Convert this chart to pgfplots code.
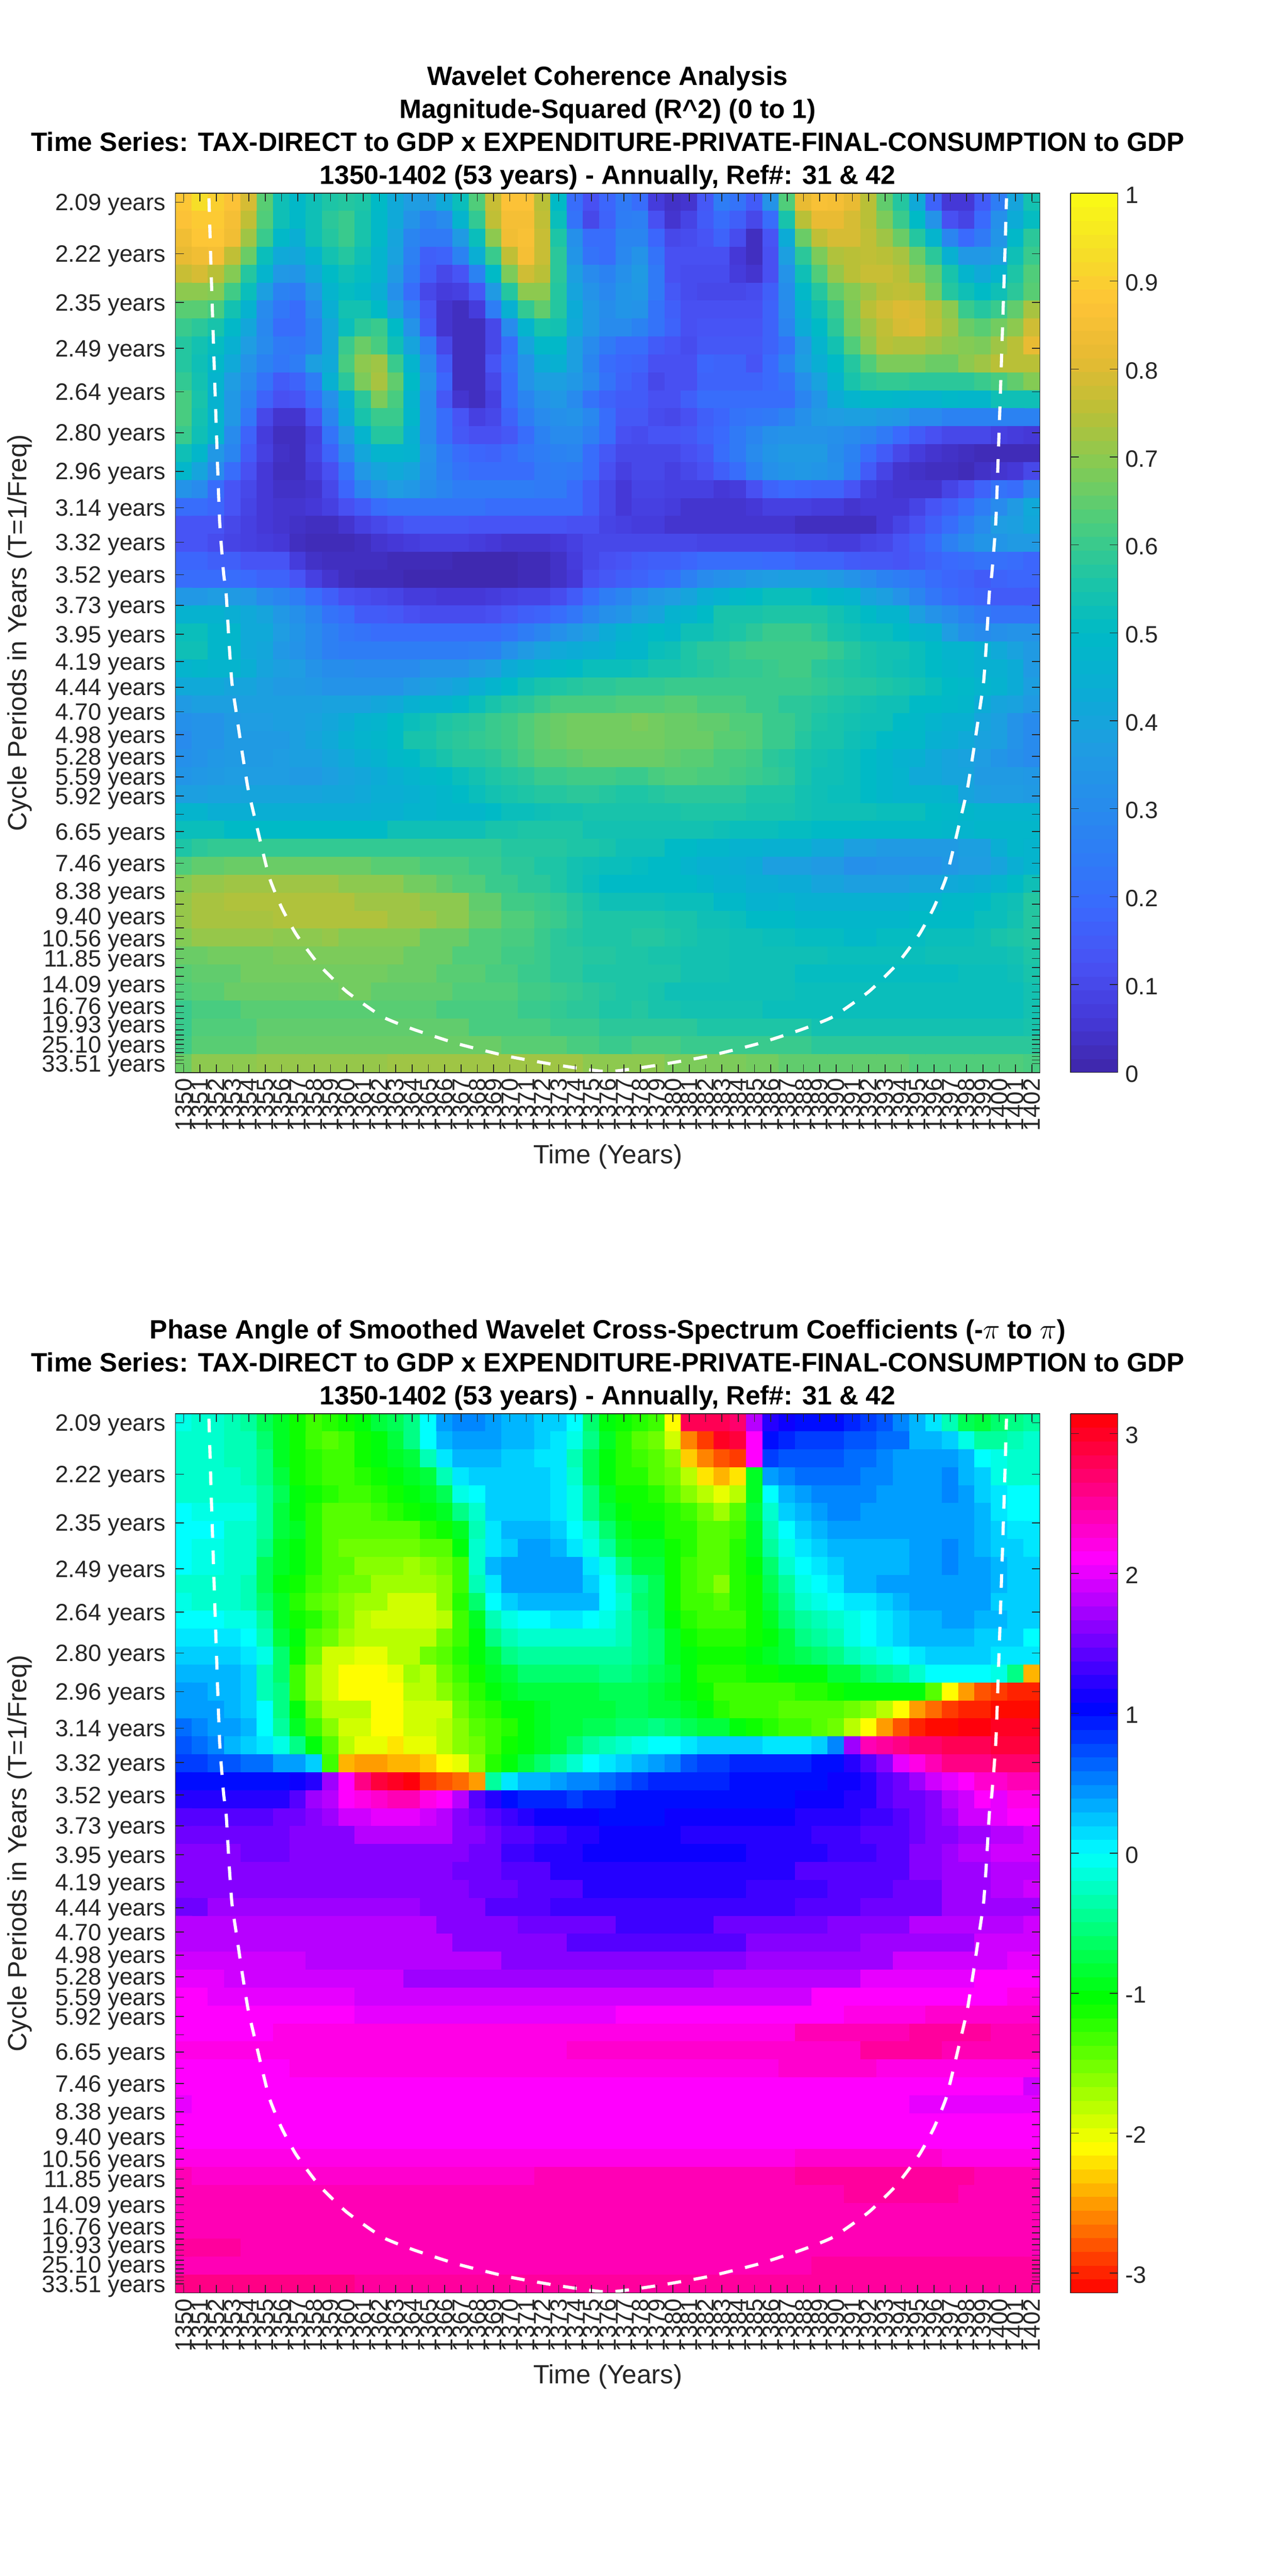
\documentclass[border=0pt]{standalone}
\usepackage{fontspec}
\setmainfont{Liberation Sans}
\usepackage{pgfplots}
\pgfplotsset{compat=1.18}
\definecolor{axc}{RGB}{38,38,38}
\newcount\cellx \newcount\celly
\def\semi{;}
\def\clist{}
\def\appendcell{\edef\clist{\clist(\the\numexpr1349+\cellx\relax,\the\celly) [\scaleprefix\lastv\scalesuffix] }}
\def\rd#1 {\def\tmp{#1}\ifx\tmp\semi\let\nxt\rowend\else\ifnum\cellx<53 \advance\cellx1 \def\lastv{#1}\appendcell\fi\let\nxt\rd\fi\nxt}
\def\rowend{\ifnum\cellx<53 \advance\cellx1 \appendcell\expandafter\rowend\fi}
\def\R{\advance\celly1 \cellx=0 \rd}
% ---------- coherence, hundredths, rows top to bottom
\def\clist{}\celly=0 \def\scaleprefix{0.}\def\scalesuffix{}
\R 88 93 90 87 79 64 53 49 53 56 57 56 50 42 37 36 42 52 63 77 87 87 75 50 20 12 18 24 20 07 04 05 14 25 22 15 33 63 82 86 85 82 75 65 57 42 17 06 06 15 25 40 54 ;
\R 87 89 89 85 76 63 53 49 53 58 60 55 49 42 33 27 30 47 59 76 85 85 76 52 22 10 17 25 26 12 05 09 15 20 16 10 20 55 75 82 82 79 75 68 60 50 33 12 09 19 32 43 51 ;
\R 84 88 88 84 72 60 49 44 53 57 60 55 49 40 28 24 24 36 52 70 84 86 77 56 32 20 20 28 28 18 10 11 13 17 11 03 13 43 66 76 79 79 76 72 66 57 47 28 19 24 34 49 58 ;
\R 82 84 85 76 66 52 42 41 47 54 57 53 47 39 26 16 17 27 44 60 76 85 77 58 34 22 20 29 33 22 12 12 12 12 06 03 12 38 58 68 74 75 76 75 73 66 58 45 35 35 38 53 60 ;
\R 77 79 75 69 57 47 35 34 42 50 53 51 47 36 24 15 10 13 27 50 68 78 75 58 38 30 27 32 36 24 12 11 11 11 07 05 12 33 53 63 71 75 77 77 75 70 65 55 47 42 47 56 63 ;
\R 70 70 69 61 52 38 27 25 35 47 51 49 44 32 20 10 07 08 14 36 57 70 70 57 40 33 29 34 35 24 14 11 10 10 10 11 16 31 49 57 65 69 72 75 76 75 67 57 53 50 53 58 64 ;
\R 64 64 62 54 46 30 23 20 30 44 54 54 50 38 27 13 05 03 07 25 45 59 65 57 43 35 31 34 33 22 16 12 12 12 12 12 17 30 45 53 60 68 75 78 80 79 75 70 60 57 60 65 73 ;
\R 60 58 55 49 41 29 20 20 27 41 52 58 60 50 33 15 05 03 03 10 30 47 55 54 42 35 30 30 27 22 17 12 13 13 13 13 17 28 43 50 58 67 72 76 79 80 76 72 66 64 67 70 78 ;
\R 57 54 51 45 37 30 24 23 27 41 60 66 62 53 40 25 10 03 03 10 20 40 49 49 38 30 24 20 20 15 13 11 14 14 14 14 17 22 36 47 54 63 70 75 74 74 72 70 69 68 72 75 82 ;
\R 57 53 49 42 33 27 23 25 38 42 62 70 72 60 47 30 15 03 03 13 22 33 43 45 38 28 20 18 17 12 12 12 18 17 17 13 19 27 38 44 50 57 63 68 68 68 66 66 70 72 75 75 75 ;
\R 59 54 47 37 30 22 15 17 25 45 58 68 73 65 50 33 18 03 03 10 20 33 38 38 35 30 22 17 15 10 12 12 17 17 17 17 19 22 32 39 47 55 58 59 59 58 58 58 58 60 62 65 69 ;
\R 62 55 46 35 27 17 12 13 20 32 45 58 68 62 47 30 14 05 03 08 20 28 33 35 30 22 17 15 15 12 12 16 20 20 20 20 20 20 28 34 43 47 49 49 48 47 47 49 48 48 53 53 53 ;
\R 62 54 47 35 23 10 05 05 13 28 43 55 60 60 48 30 20 13 08 10 17 25 30 32 33 29 20 14 14 11 10 12 16 18 22 23 24 27 32 36 37 38 38 36 35 30 30 27 27 27 27 27 27 ;
\R 60 53 47 30 17 07 03 03 08 22 35 47 57 57 45 30 20 14 12 12 14 20 27 30 30 26 20 12 11 13 13 14 17 19 24 28 32 33 33 33 32 30 28 24 19 15 12 10 10 10 08 07 06 ;
\R 53 48 35 28 15 08 04 03 09 17 29 41 47 47 46 33 25 20 18 17 20 23 25 27 28 20 14 10 10 10 10 12 14 20 24 30 34 36 36 36 31 27 20 15 10 07 05 04 03 02 02 02 02 ;
\R 48 40 30 20 12 06 03 03 07 12 22 35 40 42 40 32 26 22 20 20 20 20 24 25 24 20 12 08 10 10 08 10 12 16 20 27 32 34 35 34 32 25 15 09 05 04 03 03 02 04 05 06 10 ;
\R 33 30 20 13 10 06 04 04 05 10 18 28 33 37 35 31 28 25 25 25 25 25 24 24 20 15 10 06 09 09 08 08 08 06 07 12 17 19 18 17 17 13 08 06 05 05 05 09 12 17 22 20 28 ;
\R 20 20 18 13 09 06 05 05 06 08 12 15 20 22 22 22 22 22 22 20 20 20 20 20 20 15 10 06 08 08 07 05 05 05 05 06 08 08 08 07 07 05 06 06 06 09 13 16 20 25 30 36 42 ;
\R 13 13 13 10 08 06 05 04 03 03 05 08 10 12 14 14 14 14 13 13 13 13 13 13 12 12 09 08 07 07 05 05 05 05 05 05 05 05 03 03 03 03 03 06 09 12 16 20 25 30 37 38 41 ;
\R 13 13 11 09 08 07 06 03 02 02 02 03 05 06 07 08 08 08 07 06 05 05 05 06 08 10 10 10 10 10 10 10 09 09 09 09 09 09 08 08 07 07 09 10 13 16 20 26 30 34 34 36 36 ;
\R 18 18 16 16 13 13 13 07 04 03 03 03 03 02 02 02 02 01 01 01 01 02 02 04 07 10 12 13 15 16 16 18 20 20 20 20 19 19 17 17 17 15 14 14 13 15 17 19 20 22 21 20 18 ;
\R 20 20 20 20 19 17 17 13 08 05 03 02 02 02 01 01 01 01 01 01 01 02 02 04 06 12 14 16 17 19 21 26 30 32 34 36 37 38 38 38 36 33 30 27 25 23 20 18 17 15 17 18 18 ;
\R 35 35 37 36 35 30 28 25 20 16 12 11 10 09 07 07 06 06 06 07 08 09 09 11 15 20 25 28 32 35 37 40 44 46 49 50 52 52 52 50 48 47 40 38 33 28 23 20 18 17 15 15 15 ;
\R 46 46 46 44 42 40 35 32 28 22 20 15 15 14 12 11 11 11 11 12 14 16 17 20 23 28 32 34 38 40 46 47 50 55 55 55 56 56 56 56 54 52 50 47 47 38 33 30 27 24 22 22 22 ;
\R 52 52 48 48 42 42 37 34 30 26 23 22 20 20 20 20 20 20 20 20 22 25 28 32 35 38 43 46 48 50 48 53 53 55 56 58 60 60 60 58 55 54 52 52 50 47 46 37 32 30 32 33 33 ;
\R 53 53 48 48 42 41 35 33 30 26 25 25 25 25 25 25 25 25 26 27 32 36 39 42 43 44 45 48 48 52 53 56 58 58 60 61 61 61 61 61 59 57 55 54 54 52 50 47 47 45 42 39 36 ;
\R 47 48 47 47 44 40 38 37 33 31 31 30 30 30 30 33 33 33 36 38 43 45 47 49 50 52 52 52 53 55 55 56 57 58 59 59 60 61 61 58 57 56 55 54 53 52 50 48 47 45 45 43 36 ;
\R 42 42 42 40 40 38 36 36 35 33 33 33 33 33 36 38 39 41 44 47 50 53 55 56 57 58 58 59 59 59 60 60 60 60 60 60 60 60 60 59 58 57 57 56 55 54 52 50 49 47 46 43 38 ;
\R 36 38 38 38 38 38 38 38 38 39 39 39 41 42 45 47 47 49 52 55 57 58 60 62 62 62 62 63 63 63 64 64 62 62 62 60 60 58 58 57 56 55 54 53 53 50 50 49 48 43 40 39 36 ;
\R 32 33 33 36 37 37 38 38 39 41 43 46 47 50 52 54 56 57 58 60 61 63 65 66 67 67 67 67 68 67 66 66 65 65 63 63 60 60 58 56 55 54 53 53 50 49 47 45 45 40 38 33 30 ;
\R 30 33 33 36 36 36 36 38 40 42 45 47 48 50 55 55 57 58 59 60 61 63 65 66 67 67 67 67 67 67 66 66 66 64 64 63 60 60 57 55 55 53 52 50 49 49 45 44 42 39 38 33 30 ;
\R 32 33 35 36 36 36 37 38 38 40 42 44 46 49 50 53 55 57 57 58 60 62 64 64 65 66 66 66 66 66 65 64 64 62 62 61 58 57 55 54 53 52 50 48 46 45 42 40 39 37 34 32 30 ;
\R 34 35 36 37 37 37 37 36 36 38 40 41 43 45 47 49 50 52 54 56 57 58 60 60 61 61 61 60 60 62 63 63 62 62 61 60 59 58 55 53 53 52 50 48 47 42 42 40 40 36 36 36 35 ;
\R 38 38 39 39 40 40 40 40 40 41 41 42 44 44 45 47 48 50 52 54 55 56 57 57 58 58 57 56 56 57 58 58 58 58 58 56 56 56 54 53 52 52 50 48 47 47 47 46 40 38 37 37 36 ;
\R 47 47 44 44 44 44 44 44 44 44 44 44 45 45 47 47 48 48 48 50 52 52 53 54 54 55 55 55 55 55 55 56 56 56 56 55 55 55 54 53 53 53 53 52 52 52 50 49 48 47 47 47 47 ;
\R 52 52 52 50 50 50 50 50 50 50 50 50 50 53 53 53 53 53 53 55 55 56 56 56 56 54 54 54 54 54 54 54 54 53 52 52 52 51 51 50 50 50 49 49 49 49 49 48 47 48 48 48 48 ;
\R 56 58 59 59 59 59 59 59 59 59 59 59 59 59 59 59 59 59 59 59 57 57 57 57 56 56 55 53 53 53 50 50 48 48 46 46 45 45 45 42 42 38 38 36 36 36 36 36 38 38 44 48 47 ;
\R 63 65 65 66 66 66 66 66 66 66 66 66 64 64 64 62 62 62 60 60 58 58 56 56 54 53 52 52 51 50 50 47 45 45 44 43 38 38 38 36 36 32 32 33 33 33 33 35 37 37 40 44 47 ;
\R 69 71 71 72 72 72 72 72 72 72 70 70 70 70 67 67 65 63 63 60 60 58 58 56 54 52 50 50 50 50 50 50 48 46 46 44 44 43 43 40 40 38 38 38 38 40 40 42 43 44 47 50 53 ;
\R 71 73 73 74 74 74 74 74 74 74 74 72 72 72 72 70 70 70 65 65 61 61 60 59 57 55 53 53 53 53 52 52 52 49 49 46 46 47 45 45 45 45 45 45 45 47 47 49 49 50 52 53 57 ;
\R 71 73 73 73 73 73 74 74 74 74 74 74 74 72 72 72 70 70 66 66 63 63 61 60 58 56 56 56 56 56 55 55 53 53 52 50 50 50 48 48 48 48 48 48 48 50 50 50 50 52 52 54 57 ;
\R 69 71 71 71 71 71 70 70 70 71 69 69 69 69 69 66 66 66 63 63 62 62 60 58 57 56 56 56 57 57 56 55 54 54 53 53 52 52 51 51 51 49 49 51 51 51 52 52 52 53 55 56 57 ;
\R 66 66 67 67 67 67 68 68 68 68 68 68 68 68 66 66 66 63 63 63 61 61 60 58 58 57 57 56 56 55 55 54 54 54 53 53 53 53 53 53 52 52 52 52 52 52 53 53 53 53 53 54 56 ;
\R 64 65 65 65 67 67 67 67 67 67 67 67 67 66 66 66 64 64 64 62 62 60 60 58 58 56 56 56 56 56 56 54 54 54 53 53 53 53 51 51 51 51 51 51 51 51 51 51 52 52 52 53 55 ;
\R 63 64 64 66 66 66 66 66 66 66 67 67 65 65 65 65 65 63 63 63 63 61 61 60 59 58 57 56 56 55 53 53 53 53 53 53 53 53 52 52 52 52 52 52 52 52 52 52 52 52 52 52 54 ;
\R 60 62 62 62 64 64 64 64 64 64 64 64 64 64 64 64 62 62 62 62 62 60 60 59 58 58 56 56 57 55 55 54 54 54 54 54 52 52 52 52 52 52 52 52 52 52 52 52 52 52 52 52 54 ;
\R 60 63 63 63 63 65 65 65 65 65 65 65 65 65 65 65 65 65 62 62 62 62 62 60 60 60 58 58 58 58 58 58 56 56 56 56 56 56 56 54 54 54 54 54 54 54 54 54 54 54 54 54 55 ;
\R 61 64 64 64 64 66 66 66 66 66 66 66 66 66 66 66 66 66 66 66 64 64 64 64 62 62 60 60 62 62 62 60 60 60 60 60 60 60 60 58 58 58 58 58 58 58 58 58 58 58 58 58 58 ;
\R 66 70 70 70 70 71 71 71 71 71 71 71 71 72 72 72 72 72 72 72 72 72 72 72 72 70 70 70 70 70 68 68 68 68 68 67 67 65 65 65 65 65 65 65 65 63 63 63 63 63 63 63 62 ;
\let\dataA\clist
% ---------- phase, tenths of a radian, rows top to bottom
\def\clist{}\celly=0 \def\scaleprefix{}\def\scalesuffix{e-1}
\R -1 -2 -2 -3 -4 -7 -9 -11 -13 -12 -11 -10 -8 -7 -5 0 4 5 5 4 3 3 2 2 0 -6 -10 -11 -12 -13 -21 28 28 28 27 18 12 11 10 10 10 9 8 7 5 3 1 -3 -7 -8 -6 -5 -4 ;
\R -2 -2 -2 -3 -3 -6 -9 -11 -13 -14 -13 -11 -10 -8 -5 0 3 4 4 4 3 3 2 1 -1 -5 -9 -12 -14 -15 -19 -26 -29 30 29 21 10 9 8 8 8 7 7 6 6 3 3 2 -1 -4 -4 -3 -2 ;
\R -2 -2 -2 -3 -3 -5 -9 -11 -12 -13 -13 -11 -10 -9 -8 -3 1 3 3 3 2 2 1 1 -3 -7 -10 -12 -13 -14 -16 -23 -26 -28 -29 21 8 7 7 7 7 6 6 5 4 4 4 4 3 0 -1 -2 -2 ;
\R -2 -2 -2 -2 -3 -5 -8 -11 -12 -13 -13 -12 -11 -10 -9 -8 -3 1 2 2 2 2 2 1 -2 -7 -10 -12 -12 -14 -15 -18 -22 -24 -22 -9 4 5 6 6 6 6 5 5 4 4 4 5 3 2 -1 -2 -2 ;
\R -2 -2 -2 -2 -2 -4 -7 -10 -11 -12 -13 -13 -12 -11 -10 -9 -7 -1 0 2 2 2 2 1 -1 -5 -9 -11 -11 -12 -14 -16 -18 -20 -18 -9 0 3 4 5 5 5 5 4 4 4 4 5 4 2 1 0 0 ;
\R 0 -1 -1 -1 -1 -4 -8 -10 -12 -14 -14 -14 -13 -12 -11 -10 -9 -5 -2 2 2 2 2 1 -1 -5 -8 -10 -11 -11 -12 -13 -15 -17 -14 -8 -2 2 3 4 5 5 4 4 4 4 4 4 4 3 1 0 0 ;
\R 0 0 0 -2 -2 -4 -8 -9 -12 -14 -14 -14 -14 -14 -14 -12 -11 -9 -3 1 3 3 3 2 0 -2 -6 -9 -10 -10 -12 -12 -14 -14 -13 -9 -3 0 2 3 4 4 4 4 4 4 4 4 4 3 2 1 1 ;
\R 0 -1 -1 -2 -2 -5 -9 -10 -12 -14 -15 -15 -15 -15 -15 -14 -14 -10 -2 1 2 4 4 3 1 -1 -4 -8 -9 -9 -11 -12 -14 -14 -12 -9 -4 -1 1 2 3 3 3 3 3 4 4 5 4 3 2 2 1 ;
\R 0 -1 -1 -2 -2 -7 -9 -10 -12 -14 -14 -16 -16 -16 -17 -16 -15 -13 -2 3 4 4 4 4 4 1 -1 -5 -8 -8 -11 -13 -14 -14 -12 -10 -6 -2 0 1 2 3 3 3 3 4 4 5 4 4 3 2 2 ;
\R -2 -2 -2 -2 -3 -7 -10 -11 -13 -14 -15 -15 -17 -17 -17 -17 -16 -13 -3 1 4 4 4 4 4 2 0 -3 -5 -7 -11 -13 -14 -16 -12 -11 -7 -4 -1 0 1 3 3 4 4 4 4 4 4 4 3 2 2 ;
\R -1 -2 -2 -2 -3 -6 -9 -12 -14 -15 -16 -17 -17 -19 -19 -19 -16 -12 -6 0 2 3 3 3 3 3 0 -2 -6 -7 -11 -13 -13 -14 -12 -11 -8 -5 -2 -1 0 1 1 2 3 4 4 4 4 4 2 2 2 ;
\R 0 0 0 -1 -1 -4 -9 -11 -12 -14 -16 -18 -19 -19 -19 -19 -18 -13 -9 -3 -1 0 0 1 1 0 -1 -3 -5 -7 -10 -12 -13 -13 -13 -11 -9 -6 -4 -3 -2 -1 0 1 2 3 3 4 4 3 3 2 2 ;
\R 1 1 1 1 0 -3 -8 -10 -14 -15 -17 -18 -18 -18 -18 -18 -15 -13 -10 -5 -3 -2 -2 -2 -2 -2 -2 -3 -5 -6 -9 -11 -12 -12 -12 -11 -10 -8 -5 -4 -3 -1 0 1 2 3 3 3 3 2 2 2 0 ;
\R 2 2 2 2 1 -1 -6 -11 -15 -19 -19 -20 -20 -18 -18 -15 -14 -12 -10 -8 -5 -4 -4 -4 -4 -4 -4 -4 -5 -6 -9 -10 -11 -11 -11 -10 -9 -8 -7 -6 -5 -3 -2 -1 0 1 2 2 2 2 1 1 1 ;
\R 3 3 3 3 2 -3 -6 -13 -17 -19 -21 -21 -21 -20 -17 -18 -15 -13 -11 -9 -8 -6 -6 -6 -6 -6 -5 -5 -6 -7 -8 -10 -12 -12 -12 -11 -11 -10 -10 -10 -8 -8 -6 -5 -4 -2 0 0 0 0 -1 -5 -24 ;
\R 4 4 3 3 2 -3 -5 -13 -17 -19 -21 -21 -21 -21 -18 -18 -16 -14 -12 -10 -9 -8 -8 -8 -8 -8 -7 -7 -7 -8 -9 -10 -11 -13 -13 -13 -13 -13 -12 -12 -11 -10 -10 -10 -10 -10 -14 -21 -25 -28 -29 -30 -30 ;
\R 4 4 4 3 2 0 -5 -10 -15 -18 -18 -18 -21 -21 -19 -19 -19 -15 -13 -12 -10 -10 -9 -8 -8 -8 -8 -7 -7 -8 -8 -9 -10 -12 -13 -13 -13 -14 -14 -14 -14 -15 -16 -18 -21 -25 -27 -29 -30 -30 -31 -31 -31 ;
\R 6 5 4 4 3 0 -4 -9 -13 -16 -19 -19 -21 -21 -19 -19 -18 -16 -14 -13 -12 -10 -9 -8 -8 -7 -7 -6 -6 -5 -6 -7 -8 -8 -10 -11 -12 -13 -13 -14 -15 -18 -21 -25 -28 -30 -31 -31 31 31 30 30 30 ;
\R 7 6 5 3 2 1 -1 -5 -10 -14 -18 -20 -20 -22 -20 -20 -18 -16 -15 -13 -11 -10 -9 -8 -6 -4 -3 -2 -1 0 0 1 2 2 2 2 1 1 1 2 5 17 24 25 26 27 27 28 28 28 29 29 29 ;
\R 8 8 7 7 6 6 4 4 2 -13 -24 -25 -25 -24 -24 -23 -21 -20 -16 -12 -10 -8 -6 -4 -2 0 1 2 3 4 5 7 8 8 9 9 9 9 9 10 10 12 14 16 20 22 24 26 26 26 27 27 27 ;
\R 10 10 10 10 10 10 10 11 12 17 21 26 29 30 31 -29 -28 -27 -25 -4 1 3 3 4 5 5 6 7 8 9 9 9 9 9 10 10 10 10 10 10 11 11 12 14 15 17 19 20 21 23 23 24 24 ;
\R 12 12 12 12 12 12 12 14 17 18 21 22 23 24 24 22 21 18 14 12 10 9 9 9 8 9 9 10 10 10 10 10 10 10 10 10 10 10 11 11 11 12 12 14 15 15 16 18 19 21 20 22 22 ;
\R 14 14 14 14 14 14 15 15 16 17 19 19 20 20 20 19 18 16 15 14 13 12 11 11 11 11 10 10 10 10 11 11 11 11 11 11 11 11 12 12 12 12 13 13 14 15 16 17 19 19 20 21 21 ;
\R 15 15 15 15 15 15 15 16 16 16 16 18 18 18 18 18 18 16 16 15 14 14 13 13 12 12 11 11 11 11 11 12 12 12 12 12 12 12 12 13 13 13 14 14 14 15 16 16 17 17 18 18 19 ;
\R 16 16 16 16 15 15 15 16 16 16 16 16 16 16 16 16 16 16 15 15 13 13 12 12 12 11 11 11 11 11 11 11 11 11 11 12 12 12 12 12 13 13 13 14 14 16 16 17 18 18 19 19 19 ;
\R 16 16 16 16 16 16 16 16 16 16 16 16 16 16 16 16 16 15 15 15 14 14 14 12 12 12 12 12 12 12 12 12 12 12 12 12 12 12 14 14 14 14 14 14 14 16 16 17 17 17 18 18 18 ;
\R 16 16 16 16 16 16 16 16 16 16 16 16 16 16 16 16 16 16 15 15 15 14 14 14 14 12 12 12 12 12 12 12 12 12 12 13 13 13 13 13 14 14 14 14 15 15 15 17 17 17 18 18 19 ;
\R 15 15 17 17 17 17 17 17 17 17 17 17 17 17 17 16 16 16 16 14 14 14 14 13 13 13 13 13 13 13 13 13 13 13 13 13 13 13 14 14 14 14 15 15 15 15 15 17 17 17 17 17 17 ;
\R 18 18 18 18 18 18 18 18 18 18 18 18 18 18 18 18 16 16 16 16 16 15 15 15 15 15 15 13 13 13 13 13 13 15 15 15 15 15 15 15 16 16 16 16 16 18 18 18 18 18 18 18 19 ;
\R 18 18 18 18 18 18 18 18 18 18 18 18 18 18 18 18 18 16 16 16 16 16 16 16 14 14 14 14 14 14 14 14 14 14 14 16 16 16 16 16 16 16 17 17 17 17 17 17 17 19 19 19 19 ;
\R 19 19 19 19 19 19 19 19 18 18 18 18 18 18 18 18 18 18 18 18 16 16 16 16 16 16 16 16 16 16 16 16 16 16 16 17 17 17 17 17 17 17 17 17 19 19 19 19 19 19 19 20 20 ;
\R 20 20 20 19 19 19 19 19 19 19 19 19 19 19 17 17 17 17 17 17 17 17 17 17 17 17 17 17 17 17 17 17 17 18 18 18 18 18 18 18 18 18 20 20 20 20 20 20 20 21 21 21 21 ;
\R 21 21 20 20 20 20 20 20 20 20 20 19 19 19 19 19 19 19 19 19 19 19 19 19 19 19 19 19 19 19 19 19 19 19 19 19 19 19 19 21 21 21 21 21 21 21 21 21 21 21 21 22 22 ;
\R 21 21 21 21 21 21 21 21 21 21 21 20 20 20 20 20 20 20 20 20 20 20 20 20 20 20 20 21 21 21 21 21 21 21 21 21 21 21 21 21 21 22 22 22 22 22 23 23 23 23 23 23 23 ;
\R 21 21 21 21 21 21 22 22 22 22 22 22 22 22 22 22 22 22 22 22 22 22 22 22 22 22 22 22 22 22 22 22 22 22 22 22 22 22 24 24 24 24 24 24 24 25 25 25 25 25 24 24 24 ;
\R 22 22 22 22 22 22 22 22 22 22 22 22 22 22 22 22 22 22 22 22 22 22 22 22 23 23 23 23 23 23 23 23 23 23 23 23 23 23 23 23 23 23 25 25 25 25 25 24 24 24 24 24 24 ;
\R 21 21 21 21 21 21 21 22 22 22 22 22 22 22 22 22 22 22 22 22 22 22 22 22 22 22 22 22 22 22 22 22 22 22 22 22 22 23 23 23 23 23 23 22 22 22 22 22 22 22 22 22 22 ;
\R 21 21 21 21 21 21 21 21 21 21 21 21 21 21 21 21 21 21 21 21 21 21 21 21 21 21 21 21 21 21 21 21 21 21 21 21 21 21 21 21 21 21 21 21 21 21 21 21 21 21 21 21 19 ;
\R 20 21 21 21 21 21 21 21 21 21 21 21 21 21 21 21 21 21 21 21 21 21 21 21 21 21 21 21 21 21 21 21 21 21 21 21 21 21 21 21 21 21 21 21 21 20 20 20 20 20 20 20 20 ;
\R 21 21 21 21 21 21 21 21 21 21 21 21 21 21 21 21 21 21 21 21 21 21 21 21 21 21 21 21 21 21 21 21 21 21 21 21 21 21 21 21 21 21 21 21 21 21 21 21 21 21 21 21 21 ;
\R 21 21 21 21 21 21 21 21 21 21 21 21 21 21 21 21 21 21 21 21 21 21 21 21 21 21 21 21 21 21 21 21 21 21 21 21 21 21 21 21 21 21 21 21 21 21 21 21 21 21 21 21 21 ;
\R 22 22 22 22 22 22 22 22 22 22 22 22 22 22 22 22 22 22 22 22 22 22 22 22 22 22 22 22 22 22 22 22 22 22 22 22 22 22 23 23 23 23 23 23 23 23 23 22 22 22 22 22 22 ;
\R 24 23 23 23 23 23 23 23 23 23 23 23 23 23 23 23 23 23 23 23 23 23 24 24 24 24 24 24 24 24 24 24 24 24 24 24 24 24 25 25 25 25 25 25 25 25 25 25 25 24 24 24 24 ;
\R 24 24 24 24 24 24 24 24 24 24 24 24 24 24 24 24 24 24 24 24 24 24 24 24 24 24 24 24 24 24 24 24 24 24 24 24 24 24 24 24 24 25 25 25 25 25 25 25 24 24 24 24 24 ;
\R 24 24 24 24 24 24 24 24 24 24 24 24 24 24 24 24 24 24 24 24 24 24 24 24 24 24 24 24 24 24 24 24 24 24 24 24 24 24 24 24 24 24 24 24 24 24 24 24 24 24 24 24 24 ;
\R 24 24 24 24 24 24 24 24 24 24 24 24 24 24 24 24 24 24 24 24 24 24 24 24 24 24 24 24 24 24 24 24 24 24 24 24 24 24 24 24 24 24 24 24 24 24 24 24 24 24 24 24 24 ;
\R 25 25 25 25 24 24 24 24 24 24 24 24 24 24 24 24 24 24 24 24 24 24 24 24 24 24 24 24 24 24 24 24 24 24 24 24 24 24 24 24 24 24 24 24 24 24 24 24 24 24 24 24 24 ;
\R 24 24 24 24 24 24 24 24 24 24 24 24 24 24 24 24 24 24 24 24 24 24 24 24 24 24 24 24 24 24 24 24 24 24 24 24 24 24 24 25 25 25 25 25 25 25 25 25 25 25 25 25 25 ;
\R 26 26 26 26 26 26 26 26 26 26 26 25 25 25 25 25 25 25 25 25 25 25 25 25 25 25 25 25 25 25 25 25 25 25 25 25 25 25 25 25 25 25 25 25 25 25 25 25 25 25 25 25 25 ;
\let\dataB\clist
\def\plotmatrix#1{\addplot[matrix plot*, mesh/cols=53, point meta=explicit, draw=none] coordinates {#1};}
\pgfplotsset{
  colormap={wc}{rgb255=(62,38,168) rgb255=(69,57,217) rgb255=(72,82,244) rgb255=(58,105,253) rgb255=(46,125,245) rgb255=(38,142,235) rgb255=(30,158,225) rgb255=(10,173,212) rgb255=(0,186,198) rgb255=(30,197,165) rgb255=(75,205,125) rgb255=(130,203,85) rgb255=(185,192,55) rgb255=(230,186,50) rgb255=(254,195,55) rgb255=(245,225,38) rgb255=(249,251,20)},
  colormap={hsvm}{rgb255=(255,0,0) rgb255=(255,255,0) rgb255=(0,255,0) rgb255=(0,255,255) rgb255=(0,0,255) rgb255=(255,0,255) rgb255=(255,0,0)},
  wave/.style={
    scale only axis, width=524.5pt, height=533.5pt, anchor=south west,
    xmin=1349.5, xmax=1402.5, ymin=0.5, ymax=49.5, y dir=reverse,
    axis on top, enlargelimits=false,
    axis line style={draw=axc, line width=0.5pt},
    tick style={draw=axc, line width=0.5pt},
    major tick length=5pt, tick align=inside,
    xtick={1350,1351,1352,1353,1354,1355,1356,1357,1358,1359,1360,1361,1362,1363,1364,1365,1366,1367,1368,1369,1370,1371,1372,1373,1374,1375,1376,1377,1378,1379,1380,1381,1382,1383,1384,1385,1386,1387,1388,1389,1390,1391,1392,1393,1394,1395,1396,1397,1398,1399,1400,1401,1402},
    ytick={1,3.874,6.586,9.146,11.562,13.843,15.996,18.028,19.946,21.756,23.465,25.078,26.6,28.037,29.393,30.673,31.881,33.022,34.098,35.114,36.073,36.978,37.833,38.639,39.4,40.118,40.796,41.436,42.041,42.611,43.149,43.657,44.137,44.589,45.016,45.419,45.8,46.159,46.498,46.818,47.12,47.405,47.675,47.929,48.168,48.395,48.608,48.81,49},
    yticklabels={2.09 years,2.22 years,2.35 years,2.49 years,2.64 years,2.80 years,2.96 years,3.14 years,3.32 years,3.52 years,3.73 years,3.95 years,4.19 years,4.44 years,4.70 years,4.98 years,5.28 years,5.59 years,5.92 years,{},6.65 years,{},7.46 years,{},8.38 years,{},9.40 years,{},10.56 years,{},11.85 years,{},{},14.09 years,{},{},16.76 years,{},{},19.93 years,{},{},{},25.10 years,{},{},{},{},33.51 years},
    tick label style={font=\fontsize{14.35}{16}\selectfont, text=axc},
    yticklabel style={xshift=-2.4pt, yshift=-1.5pt},
    /pgf/number format/assume math mode=true,
    /pgf/number format/set thousands separator={},
    /pgf/number format/fixed,
    xticklabel style={rotate=90, anchor=east},
    xlabel={Time (Years)}, ylabel={Cycle Periods in Years (T=1/Freq)},
    label style={font=\fontsize{16}{18}\selectfont, text=axc},
    xlabel style={at={(axis description cs:0.5,-0.0956)}, anchor=center},
    ylabel style={at={(axis description cs:-0.18,0.5)}, anchor=center, rotate=0},
    title style={at={(axis description cs:0.5,1)}, anchor=south, align=center, inner sep=0pt, yshift=-4pt,
                 font=\fontsize{16.1}{20}\selectfont\bfseries},
    colorbar sampled,
    colorbar style={
      at={(1.03527,1)}, anchor=north west, width=28.75pt, samples=65,
      axis line style={draw=axc, line width=0.5pt},
      tick style={draw=axc, line width=0.5pt},
      major tick length=5pt, tick align=inside,
      yticklabel style={font=\fontsize{14.35}{16}\selectfont, text=axc, xshift=1pt, yshift=-1pt},
      /pgf/number format/assume math mode=true,
      /pgf/number format/fixed,
    },
  },
  coi/.style={white, line width=1.9pt, dash pattern=on 8.3pt off 7.7pt, smooth, tension=0.3, mark=none},
}
\newcommand{\coiplot}{\addplot[coi] coordinates {
(1351.55,0.78)(1351.7,5.35)(1351.94,12)(1352.2,18.7)(1352.45,21.7)(1352.6,22.75)(1352.8,25.8)(1352.96,27.8)(1353.25,29.6)(1353.56,31.5)(1353.95,33.7)(1354.46,35.7)(1355.24,38.6)(1356,40.3)(1356.9,41.8)(1358.3,43.5)(1360,45)(1362.2,46.4)(1364.1,47.1)(1366.8,47.9)(1369.9,48.6)(1373,49.1)(1376,49.45)(1379,49.1)(1382.1,48.6)(1385.2,47.9)(1387.9,47.1)(1389.8,46.4)(1392,45)(1393.7,43.5)(1395.1,41.8)(1396,40.3)(1396.76,38.6)(1397.54,35.7)(1398.05,33.7)(1398.44,31.5)(1398.75,29.6)(1399.04,27.8)(1399.2,25.8)(1399.4,22.75)(1399.55,21.7)(1399.8,18.7)(1400.06,12)(1400.3,5.35)(1400.45,0.78)};}
\begin{document}
\begin{tikzpicture}
\useasboundingbox (0pt,0pt) rectangle (781.25pt,1563pt);
\begin{axis}[wave, at={(106.5pt,912.25pt)}, colormap name=wc,
  point meta min=0, point meta max=1,
  colorbar style={ytick={0,0.1,0.2,0.3,0.4,0.5,0.6,0.7,0.8,0.9,1}},
  title={Wavelet Coherence Analysis\\Magnitude-Squared (R\textasciicircum 2) (0 to 1)\\Time Series: TAX-DIRECT to GDP x EXPENDITURE-PRIVATE-FINAL-CONSUMPTION to GDP\\1350-1402 (53 years) - Annually, Ref\#: 31 \& 42}]
\expandafter\plotmatrix\expandafter{\dataA}
\coiplot
\end{axis}
\begin{axis}[wave, at={(106.5pt,171.75pt)}, colormap name=hsvm,
  point meta min=-3.14159, point meta max=3.14159,
  colorbar style={ytick={-3,-2,-1,0,1,2,3}},
  title={Phase Angle of Smoothed Wavelet Cross-Spectrum Coefficients (-$\pi$ to $\pi$)\\Time Series: TAX-DIRECT to GDP x EXPENDITURE-PRIVATE-FINAL-CONSUMPTION to GDP\\1350-1402 (53 years) - Annually, Ref\#: 31 \& 42}]
\expandafter\plotmatrix\expandafter{\dataB}
\coiplot
\end{axis}
\end{tikzpicture}
\end{document}
